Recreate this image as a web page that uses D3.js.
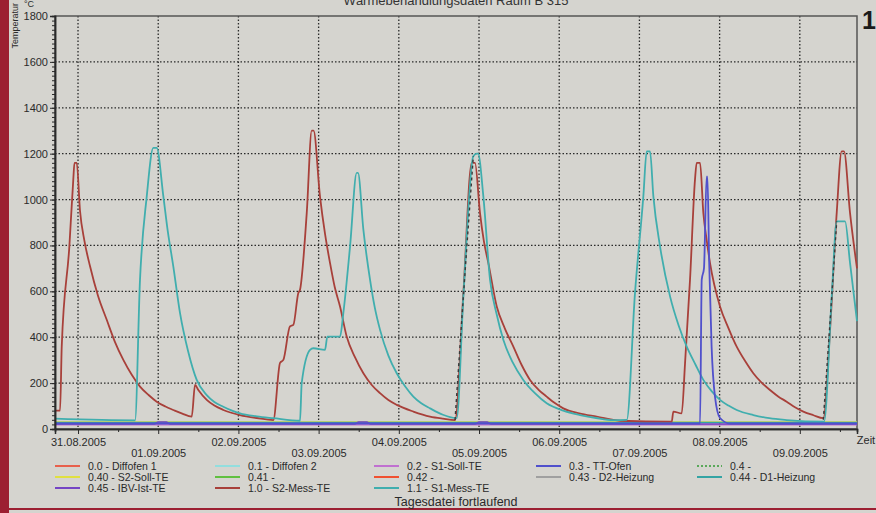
<!DOCTYPE html>
<html>
<head>
<meta charset="utf-8">
<script src="https://cdn.jsdelivr.net/npm/d3@7"></script>
<style>
  body { margin: 0; background: #d5d4cf; }
  svg { display: block; font-family: "Liberation Sans", Arial, sans-serif; }
</style>
</head>
<body>
<div id="chartContainer"></div>
<script>
// time in days since 31.08.2005 00:00, value in °C
var s2Mess = [[-0.287,80],[-0.224,80],[-0.203,360],[-0.108,796],[-0.059,1087],[-0.044,1160],[-0.016,1160],
  [0.025,950],[0.080,820],[0.150,709],[0.250,580],[0.358,476],[0.460,380],[0.565,301],[0.670,236],[0.773,185],
  [0.880,148],[0.981,119],[1.090,98],[1.188,83],[1.300,67],[1.418,54],[1.459,192],[1.500,170],
  [1.605,127],[1.700,102],[1.812,83],[2.020,61],[2.230,48],[2.435,39],[2.519,288],[2.560,301],[2.643,447],[2.685,454],[2.747,593],
  [2.768,607],[2.852,942],[2.914,1300],[2.937,1300],[3.017,1014],[3.080,850],[3.142,724],[3.200,620],[3.267,534],[3.350,403],
  [3.450,315],[3.558,243],[3.660,193],[3.766,156],[3.870,126],[3.974,105],[4.181,76],[4.389,54],[4.550,45],[4.701,39],[4.805,593],[4.909,1160],[4.950,1160],
  [5.012,942],[5.060,820],[5.116,724],[5.221,534],[5.320,440],[5.428,359],[5.530,280],[5.636,214],[5.740,172],[5.844,141],[5.950,112],[6.051,90],[6.250,68],[6.468,54],[6.758,36],
  [7.403,32],[7.423,76],[7.527,68],[7.569,287],[7.631,651],[7.693,1087],[7.714,1160],[7.756,1160],[7.797,942],
  [7.840,820],[7.880,724],[8.005,534],[8.110,440],[8.213,359],[8.320,295],[8.420,243],[8.520,203],[8.628,170],[8.730,142],[8.836,119],[8.940,95],[9.044,76],[9.170,60],[9.293,47],[9.377,432],
  [9.460,942],[9.522,1210],[9.551,1210],[9.626,942],[9.713,700]];

var s1Mess = [[-0.287,45],[0.711,38],[0.773,651],[0.857,1014],[0.939,1225],[0.981,1225],[1.064,1014],[1.120,860],
  [1.188,709],[1.272,505],[1.372,340],[1.480,214],[1.605,148],[1.700,118],[1.812,97],[1.920,80],[2.020,68],[2.230,55],[2.435,47],[2.768,36],
  [2.789,200],[2.893,345],[2.934,352],[3.080,345],[3.109,403],[3.267,403],[3.308,505],[3.392,796],[3.475,1116],
  [3.491,1116],[3.558,869],[3.641,651],[3.700,530],[3.766,432],[3.870,320],[3.974,243],[4.080,185],[4.181,141],[4.280,112],[4.389,90],[4.550,62],[4.722,47],[4.805,578],
  [4.929,1189],[4.972,1200],[4.988,1200],[5.054,1014],[5.137,651],[5.220,500],[5.303,389],[5.420,290],[5.552,214],[5.700,155],[5.844,112],
  [6.050,80],[6.259,61],[6.460,48],[6.675,39],[6.842,40],[6.945,593],[7.049,1014],[7.091,1210],[7.132,1210],[7.174,1014],[7.257,796],
  [7.382,578],[7.490,450],[7.590,359],[7.700,280],[7.797,214],[7.900,165],[8.005,127],[8.110,102],[8.213,83],[8.420,61],[8.620,47],[8.836,39],[9.302,32],[9.398,578],
  [9.460,905],[9.564,905],[9.626,724],[9.713,470]];

var ttOfen = [[-0.287,24],[7.756,24],[7.777,651],[7.805,700],[7.838,1100],[7.848,1100],[7.870,724],
  [7.900,359],[7.942,141],[8.005,48],[8.130,24],[9.713,24]];

var d2Heizung = [[[4.701,39],[4.805,578],[4.929,1189]], [[9.293,40],[9.398,578],[9.460,905]]];

var s2Soll = [[-0.287,30],[9.713,30]];
var s1Soll = [[-0.287,19],[9.713,19]];
var ibvIst = [[-0.287,22],[0.95,22],[1.0,30],[1.1,30],[1.15,22],[3.45,22],[3.5,30],[3.6,30],[3.65,22],
  [4.95,22],[5.0,30],[5.1,30],[5.15,22],[9.713,22]];
var d1Heizung = [[-0.287,28],[9.713,28]];

var dayLabels = ["31.08.2005","01.09.2005","02.09.2005","03.09.2005","04.09.2005",
  "05.09.2005","06.09.2005","07.09.2005","08.09.2005","09.09.2005"];
var yTicks = [0,200,400,600,800,1000,1200,1400,1600,1800];

var legendNames = ["0.0 - Diffofen 1","0.1 - Diffofen 2","0.2 - S1-Soll-TE","0.3 - TT-Ofen","0.4 -",
  "0.40 - S2-Soll-TE","0.41 -","0.42 -","0.43 - D2-Heizung","0.44 - D1-Heizung",
  "0.45 - IBV-Ist-TE","1.0 - S2-Mess-TE","1.1 - S1-Mess-TE"];
var legendColors = ["#e8604c","#92dede","#c070d0","#5050cc","#5aa85a",
  "#e0e040","#60c040","#f05030","#a0a0a0","#34a4a4",
  "#7444c4","#a8403a","#40aeae"];

function init() {
    var w = 876;
    var h = 513;
    var t0 = new Date(2005, 7, 31, 0, 0);

    function toDate(t) { return new Date(t0.getTime() + t * 86400000); }

    var xScale = d3.scaleTime()
        .domain([toDate(-0.287), toDate(9.713)])
        .range([55, 857]);

    var yScale = d3.scaleLinear()
        .domain([0, 1800])
        .range([429, 16]);

    var svg = d3.select("#chartContainer")
        .append("svg")
        .attr("width", w)
        .attr("height", h);

    // page decoration
    svg.append("rect").attr("x", 0).attr("y", 0).attr("width", 9).attr("height", h).attr("fill", "#9c1f32");
    svg.append("rect").attr("x", 0).attr("y", 508).attr("width", w).attr("height", 2).attr("fill", "#9c1f32");

    // title (cut off at top)
    svg.append("text")
        .attr("x", 456).attr("y", 5)
        .attr("text-anchor", "middle")
        .attr("font-size", "13px").attr("fill", "#333")
        .text("Wärmebehandlungsdaten Raum B 315");

    svg.append("text")
        .attr("x", 876).attr("y", 29)
        .attr("text-anchor", "end")
        .attr("font-size", "25px").attr("font-weight", "bold").attr("fill", "#1a1a1a")
        .text("1");

    // gridlines
    var days = d3.range(0, 10).map(function (i) { return toDate(i); });
    svg.append("g").selectAll("line.vg")
        .data(days).enter().append("line")
        .attr("x1", function (d) { return xScale(d); })
        .attr("x2", function (d) { return xScale(d); })
        .attr("y1", yScale(1800)).attr("y2", yScale(0))
        .attr("stroke", "#2a2a2a").attr("stroke-width", 1.3)
        .attr("stroke-dasharray", "1.5,2");

    svg.append("g").selectAll("line.hg")
        .data(yTicks.slice(1, 9)).enter().append("line")
        .attr("x1", 55).attr("x2", 857)
        .attr("y1", function (d) { return yScale(d); })
        .attr("y2", function (d) { return yScale(d); })
        .attr("stroke", "#2a2a2a").attr("stroke-width", 1.3)
        .attr("stroke-dasharray", "1.5,2");

    // frame
    svg.append("rect")
        .attr("x", 55).attr("y", yScale(1800))
        .attr("width", 802).attr("height", yScale(0) - yScale(1800))
        .attr("fill", "none").attr("stroke", "#555").attr("stroke-width", 1.5);

    var line = d3.line()
        .curve(d3.curveMonotoneX)
        .x(function (d) { return xScale(toDate(d[0])); })
        .y(function (d) { return yScale(d[1]); });

    function drawSeries(data, color, width, dash) {
        svg.append("path")
            .datum(data)
            .attr("fill", "none")
            .attr("stroke", color)
            .attr("stroke-width", width)
            .attr("stroke-dasharray", dash || null)
            .attr("d", line);
    }

    drawSeries(s2Soll, legendColors[5], 1.5);
    drawSeries(d1Heizung, legendColors[9], 1.5);
    drawSeries(s1Soll, legendColors[2], 1.5);
    drawSeries(ibvIst, legendColors[10], 1.5);
    drawSeries(s2Mess, legendColors[11], 1.8);
    drawSeries(s1Mess, legendColors[12], 1.8);
    drawSeries(ttOfen, legendColors[3], 1.8);
    d2Heizung.forEach(function (seg) { drawSeries(seg, "#3a3a3a", 1.4, "3,3"); });

    // axes
    var yAxis = d3.axisLeft(yScale).tickValues(yTicks).tickSize(5).tickPadding(2).tickFormat(d3.format("d"));
    var yMinor = d3.axisLeft(yScale).tickValues(d3.range(0, 1801, 20)).tickSize(3).tickFormat("");

    svg.append("g").attr("class", "y minor").attr("transform", "translate(55,0)").call(yMinor);
    svg.append("g").attr("class", "y axis").attr("transform", "translate(55,0)").call(yAxis);

    var xAxis = d3.axisBottom(xScale).tickValues(days).tickSize(5)
        .tickFormat(function (d, i) { return dayLabels[i]; });
    var xMinor = d3.axisBottom(xScale)
        .tickValues(d3.range(0, 10).map(function (i) { return toDate(i + 0.5); }))
        .tickSize(3).tickFormat("");

    svg.append("g").attr("class", "x minor").attr("transform", "translate(0,429)").call(xMinor);
    var gx = svg.append("g").attr("class", "x axis").attr("transform", "translate(0,429)").call(xAxis);
    gx.selectAll("text").attr("dy", function (d, i) { return i % 2 === 0 ? "0.85em" : "1.85em"; });

    svg.selectAll(".axis text").attr("font-size", "11px").attr("fill", "#2a2a2a")
        .attr("font-family", "'Liberation Sans', Arial, sans-serif");
    svg.selectAll(".axis path, .minor path").attr("stroke", "#2a2a2a").attr("stroke-width", 1.5);
    svg.selectAll(".axis line, .minor line").attr("stroke", "#2a2a2a");

    svg.append("text")
        .attr("x", 866).attr("y", 444)
        .attr("text-anchor", "middle")
        .attr("font-size", "11px").attr("fill", "#2a2a2a")
        .text("Zeit");

    svg.append("text")
        .attr("x", 29).attr("y", 7)
        .attr("text-anchor", "middle")
        .attr("font-size", "9px").attr("fill", "#2a2a2a")
        .text("°C");

    svg.append("text")
        .attr("transform", "translate(18,3) rotate(-90)")
        .attr("text-anchor", "end")
        .attr("font-size", "9px").attr("fill", "#2a2a2a")
        .text("Temperatur");

    // legend
    var colX = [55, 215, 374, 536, 697];
    var rowY = [466, 477, 488];
    var leg = svg.append("g").selectAll("g")
        .data(legendNames).enter().append("g")
        .attr("transform", function (d, i) {
            return "translate(" + colX[i % 5] + "," + rowY[Math.floor(i / 5)] + ")";
        });
    leg.append("line")
        .attr("x1", 0).attr("x2", 25)
        .attr("stroke", function (d, i) { return legendColors[i]; })
        .attr("stroke-width", 2)
        .attr("stroke-dasharray", function (d, i) { return i === 4 ? "2,2" : null; });
    leg.append("text")
        .attr("x", 33).attr("y", 4)
        .attr("font-size", "10.5px").attr("fill", "#2a2a2a")
        .text(function (d) { return d; });

    svg.append("text")
        .attr("x", 456).attr("y", 506)
        .attr("text-anchor", "middle")
        .attr("font-size", "12.5px").attr("fill", "#2a2a2a")
        .text("Tagesdatei fortlaufend");
}

window.onload = init;
</script>
</body>
</html>
